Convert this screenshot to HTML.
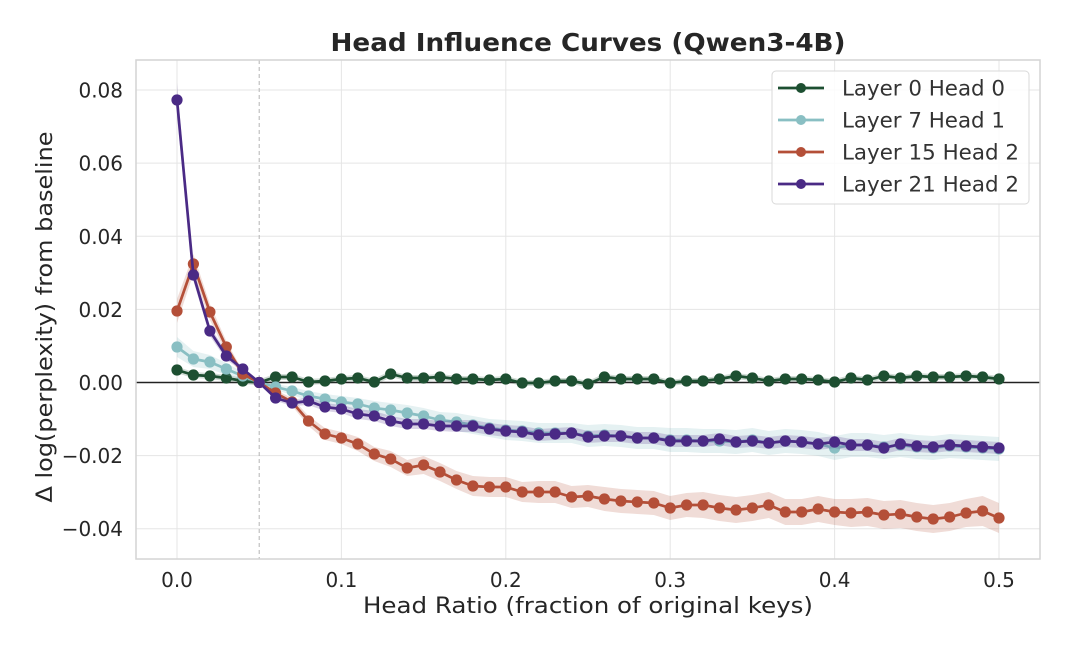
<!DOCTYPE html>
<html><head><meta charset="utf-8"><style>
html,body{margin:0;padding:0;background:#fff;}
svg{display:block;font-family:"DejaVu Sans","Liberation Sans",sans-serif;}
</style></head><body>
<svg width="1080" height="654" viewBox="0 0 1080 654" xmlns="http://www.w3.org/2000/svg">
<defs>
<marker id="mg" markerUnits="userSpaceOnUse" markerWidth="14" markerHeight="14" refX="7" refY="7" viewBox="0 0 14 14"><circle cx="7" cy="7" r="5.6" fill="#1d4f31"/></marker>
<marker id="mt" markerUnits="userSpaceOnUse" markerWidth="14" markerHeight="14" refX="7" refY="7" viewBox="0 0 14 14"><circle cx="7" cy="7" r="5.6" fill="#89bfc3"/></marker>
<marker id="mr" markerUnits="userSpaceOnUse" markerWidth="14" markerHeight="14" refX="7" refY="7" viewBox="0 0 14 14"><circle cx="7" cy="7" r="5.6" fill="#b44f38"/></marker>
<marker id="mp" markerUnits="userSpaceOnUse" markerWidth="14" markerHeight="14" refX="7" refY="7" viewBox="0 0 14 14"><circle cx="7" cy="7" r="5.6" fill="#4a2a85"/></marker>
<clipPath id="ax"><rect x="136" y="60" width="904" height="499"/></clipPath>
</defs>
<rect width="1080" height="654" fill="#fff"/>
<g stroke="#e5e5e5" stroke-width="1">
<line x1="177" y1="60" x2="177" y2="559"/>
<line x1="341.4" y1="60" x2="341.4" y2="559"/>
<line x1="505.8" y1="60" x2="505.8" y2="559"/>
<line x1="670.2" y1="60" x2="670.2" y2="559"/>
<line x1="834.6" y1="60" x2="834.6" y2="559"/>
<line x1="999" y1="60" x2="999" y2="559"/>
<line x1="136" y1="90" x2="1040" y2="90"/>
<line x1="136" y1="163.1" x2="1040" y2="163.1"/>
<line x1="136" y1="236.3" x2="1040" y2="236.3"/>
<line x1="136" y1="309.4" x2="1040" y2="309.4"/>
<line x1="136" y1="455.6" x2="1040" y2="455.6"/>
<line x1="136" y1="528.7" x2="1040" y2="528.7"/>
</g>
<line x1="259.2" y1="60" x2="259.2" y2="559" stroke="#b5b5b5" stroke-width="1" stroke-dasharray="4,3"/>
<line x1="136" y1="382.5" x2="1040" y2="382.5" stroke="#222" stroke-width="1.6"/>
<g clip-path="url(#ax)" fill="none" stroke-linejoin="round">
<polyline opacity="0.2" stroke="#1d4f31" stroke-width="6" points="177,370 193.4,375 209.9,376 226.3,378 242.8,381 259.2,382.5 275.6,377 292.1,377 308.5,382 325,381 341.4,379 357.8,378 374.3,382 390.7,374 407.2,378 423.6,378 440,377 456.5,379 472.9,379 489.4,380 505.8,379 522.2,383 538.7,383 555.1,381 571.6,381 588,384 604.4,377 620.9,379 637.3,379 653.8,379 670.2,383 686.6,381 703.1,381 719.5,379 736,376 752.4,378 768.8,381 785.3,379 801.7,379 818.2,380 834.6,382 851,378 867.5,380 883.9,376 900.4,378 916.8,376 933.2,377 949.7,377 966.1,376 982.6,377 999,379"/>
<polyline stroke="#1d4f31" stroke-width="2.7" marker-start="url(#mg)" marker-mid="url(#mg)" marker-end="url(#mg)" points="177,370 193.4,375 209.9,376 226.3,378 242.8,381 259.2,382.5 275.6,377 292.1,377 308.5,382 325,381 341.4,379 357.8,378 374.3,382 390.7,374 407.2,378 423.6,378 440,377 456.5,379 472.9,379 489.4,380 505.8,379 522.2,383 538.7,383 555.1,381 571.6,381 588,384 604.4,377 620.9,379 637.3,379 653.8,379 670.2,383 686.6,381 703.1,381 719.5,379 736,376 752.4,378 768.8,381 785.3,379 801.7,379 818.2,380 834.6,382 851,378 867.5,380 883.9,376 900.4,378 916.8,376 933.2,377 949.7,377 966.1,376 982.6,377 999,379"/>
<polygon fill="#89bfc3" fill-opacity="0.22" stroke="none" points="177,337 193.4,351 209.9,355 226.3,363 242.8,372 259.2,382.5 275.6,384 292.1,387 308.5,391 325,394 341.4,396 357.8,398 374.3,401 390.7,403 407.2,405 423.6,408 440,412 456.5,413 472.9,416 489.4,419 505.8,420 522.2,421 538.7,423 555.1,423 571.6,423 588,425 604.4,424 620.9,425 637.3,427 653.8,427 670.2,428 686.6,428 703.1,429 719.5,429 736,430 752.4,428 768.8,431 785.3,429 801.7,430 818.2,432 834.6,436 851,433 867.5,433 883.9,435 900.4,433 916.8,435 933.2,436 949.7,434 966.1,435 982.6,436 999,437 999,461 982.6,460 966.1,459 949.7,458 933.2,460 916.8,459 900.4,457 883.9,459 867.5,457 851,457 834.6,460 818.2,456 801.7,454 785.3,453 768.8,455 752.4,452 736,454 719.5,453 703.1,453 686.6,452 670.2,452 653.8,449 637.3,449 620.9,447 604.4,446 588,447 571.6,443 555.1,443 538.7,443 522.2,441 505.8,440 489.4,437 472.9,434 456.5,431 440,428 423.6,424 407.2,421 390.7,417 374.3,415 357.8,410 341.4,408 325,404 308.5,401 292.1,395 275.6,390 259.2,382.5 242.8,380 226.3,375 209.9,369 193.4,367 177,357"/>
<polyline stroke="#89bfc3" stroke-width="2.7" marker-start="url(#mt)" marker-mid="url(#mt)" marker-end="url(#mt)" points="177,347 193.4,359 209.9,362 226.3,369 242.8,376 259.2,382.5 275.6,387 292.1,391 308.5,396 325,399 341.4,402 357.8,404 374.3,408 390.7,410 407.2,413 423.6,416 440,420 456.5,422 472.9,425 489.4,428 505.8,430 522.2,431 538.7,433 555.1,433 571.6,433 588,436 604.4,435 620.9,436 637.3,438 653.8,438 670.2,440 686.6,440 703.1,441 719.5,441 736,442 752.4,440 768.8,443 785.3,441 801.7,442 818.2,444 834.6,448 851,445 867.5,445 883.9,447 900.4,445 916.8,447 933.2,448 949.7,446 966.1,447 982.6,448 999,449"/>
<polygon fill="#b44f38" fill-opacity="0.2" stroke="none" points="177,299 193.4,254 209.9,304 226.3,341 242.8,371 259.2,382.5 275.6,390 292.1,398 308.5,416 325,428 341.4,432 357.8,437 374.3,447 390.7,451 407.2,460 423.6,456 440,463 456.5,471 472.9,476 489.4,477 505.8,477 522.2,482 538.7,481 555.1,481 571.6,486 588,485 604.4,487 620.9,489 637.3,490 653.8,491 670.2,496 686.6,493 703.1,492 719.5,495 736,497 752.4,495 768.8,492 785.3,499 801.7,499 818.2,496 834.6,499 851,499 867.5,498 883.9,501 900.4,500 916.8,503 933.2,505 949.7,503 966.1,499 982.6,496 999,503 999,533 982.6,526 966.1,527 949.7,531 933.2,533 916.8,531 900.4,528 883.9,529 867.5,526 851,527 834.6,525 818.2,522 801.7,525 785.3,525 768.8,518 752.4,521 736,523 719.5,521 703.1,518 686.6,517 670.2,520 653.8,515 637.3,514 620.9,513 604.4,511 588,507 571.6,508 555.1,503 538.7,503 522.2,502 505.8,497 489.4,497 472.9,496 456.5,489 440,481 423.6,474 407.2,476 390.7,467 374.3,461 357.8,451 341.4,444 325,440 308.5,426 292.1,406 275.6,396 259.2,382.5 242.8,377 226.3,353 209.9,320 193.4,274 177,323"/>
<polyline stroke="#b44f38" stroke-width="2.7" marker-start="url(#mr)" marker-mid="url(#mr)" marker-end="url(#mr)" points="177,311 193.4,264 209.9,312 226.3,347 242.8,374 259.2,382.5 275.6,393 292.1,402 308.5,421 325,434 341.4,438 357.8,444 374.3,454 390.7,459 407.2,468 423.6,465 440,472 456.5,480 472.9,486 489.4,487 505.8,487 522.2,492 538.7,492 555.1,492 571.6,497 588,496 604.4,499 620.9,501 637.3,502 653.8,503 670.2,508 686.6,505 703.1,505 719.5,508 736,510 752.4,508 768.8,505 785.3,512 801.7,512 818.2,509 834.6,512 851,513 867.5,512 883.9,515 900.4,514 916.8,517 933.2,519 949.7,517 966.1,513 982.6,511 999,518"/>
<polygon fill="#4a2a85" fill-opacity="0.2" stroke="none" points="177,83 193.4,269 209.9,326 226.3,352 242.8,367 259.2,382.5 275.6,395 292.1,400 308.5,397 325,403 341.4,405 357.8,409 374.3,411 390.7,416 407.2,419 423.6,419 440,421 456.5,420 472.9,420 489.4,423 505.8,425 522.2,426 538.7,429 555.1,428 571.6,427 588,431 604.4,430 620.9,430 637.3,432 653.8,432 670.2,435 686.6,435 703.1,435 719.5,433 736,436 752.4,435 768.8,437 785.3,435 801.7,436 818.2,438 834.6,436 851,439 867.5,439 883.9,442 900.4,438 916.8,440 933.2,441 949.7,439 966.1,440 982.6,441 999,442 999,454 982.6,453 966.1,452 949.7,451 933.2,453 916.8,452 900.4,450 883.9,454 867.5,451 851,451 834.6,448 818.2,450 801.7,448 785.3,447 768.8,449 752.4,447 736,448 719.5,445 703.1,447 686.6,447 670.2,447 653.8,444 637.3,444 620.9,442 604.4,442 588,443 571.6,439 555.1,440 538.7,441 522.2,438 505.8,437 489.4,435 472.9,432 456.5,432 440,431 423.6,429 407.2,429 390.7,426 374.3,421 357.8,419 341.4,413 325,411 308.5,405 292.1,406 275.6,401 259.2,382.5 242.8,371 226.3,360 209.9,336 193.4,281 177,117"/>
<polyline stroke="#4a2a85" stroke-width="2.7" marker-start="url(#mp)" marker-mid="url(#mp)" marker-end="url(#mp)" points="177,100 193.4,275 209.9,331 226.3,356 242.8,369 259.2,382.5 275.6,398 292.1,403 308.5,401 325,407 341.4,409 357.8,414 374.3,416 390.7,421 407.2,424 423.6,424 440,426 456.5,426 472.9,426 489.4,429 505.8,431 522.2,432 538.7,435 555.1,434 571.6,433 588,437 604.4,436 620.9,436 637.3,438 653.8,438 670.2,441 686.6,441 703.1,441 719.5,439 736,442 752.4,441 768.8,443 785.3,441 801.7,442 818.2,444 834.6,442 851,445 867.5,445 883.9,448 900.4,444 916.8,446 933.2,447 949.7,445 966.1,446 982.6,447 999,448"/>
</g>
<rect x="136" y="60" width="904" height="499" fill="none" stroke="#d4d4d4" stroke-width="1.5"/>
<g fill="#262626" font-size="20" text-anchor="end">
<text x="123" y="97.5">0.08</text>
<text x="123" y="170.6">0.06</text>
<text x="123" y="243.8">0.04</text>
<text x="123" y="316.9">0.02</text>
<text x="123" y="390">0.00</text>
<text x="123" y="463.1">−0.02</text>
<text x="123" y="536.2">−0.04</text>
</g>
<g fill="#262626" font-size="20" text-anchor="middle">
<text x="177" y="587">0.0</text>
<text x="341.4" y="587">0.1</text>
<text x="505.8" y="587">0.2</text>
<text x="670.2" y="587">0.3</text>
<text x="834.6" y="587">0.4</text>
<text x="999" y="587">0.5</text>
</g>
<text x="588" y="613" fill="#262626" font-size="22" text-anchor="middle" textLength="450" lengthAdjust="spacingAndGlyphs">Head Ratio (fraction of original keys)</text>
<text transform="translate(52,317) rotate(-90)" fill="#262626" font-size="22" text-anchor="middle" textLength="371" lengthAdjust="spacingAndGlyphs">Δ log(perplexity) from baseline</text>
<text x="588" y="51" fill="#262626" font-size="25" font-weight="bold" text-anchor="middle" textLength="515" lengthAdjust="spacingAndGlyphs">Head Influence Curves (Qwen3-4B)</text>
<rect x="772" y="71" width="257" height="133" rx="4" fill="#fff" fill-opacity="0.85" stroke="#d9d9d9" stroke-width="1"/>
<g stroke-width="2.7">
<line x1="778" y1="88" x2="824" y2="88" stroke="#1d4f31"/><circle cx="801" cy="88" r="5" fill="#1d4f31"/>
<line x1="778" y1="120" x2="824" y2="120" stroke="#89bfc3"/><circle cx="801" cy="120" r="5" fill="#89bfc3"/>
<line x1="778" y1="152" x2="824" y2="152" stroke="#b44f38"/><circle cx="801" cy="152" r="5" fill="#b44f38"/>
<line x1="778" y1="184" x2="824" y2="184" stroke="#4a2a85"/><circle cx="801" cy="184" r="5" fill="#4a2a85"/>
</g>
<g fill="#333" font-size="21">
<text x="842" y="95.5" textLength="163" lengthAdjust="spacingAndGlyphs">Layer 0 Head 0</text>
<text x="842" y="127.5" textLength="163" lengthAdjust="spacingAndGlyphs">Layer 7 Head 1</text>
<text x="842" y="159.5" textLength="177" lengthAdjust="spacingAndGlyphs">Layer 15 Head 2</text>
<text x="842" y="191.5" textLength="177" lengthAdjust="spacingAndGlyphs">Layer 21 Head 2</text>
</g>
</svg>
</body></html>
